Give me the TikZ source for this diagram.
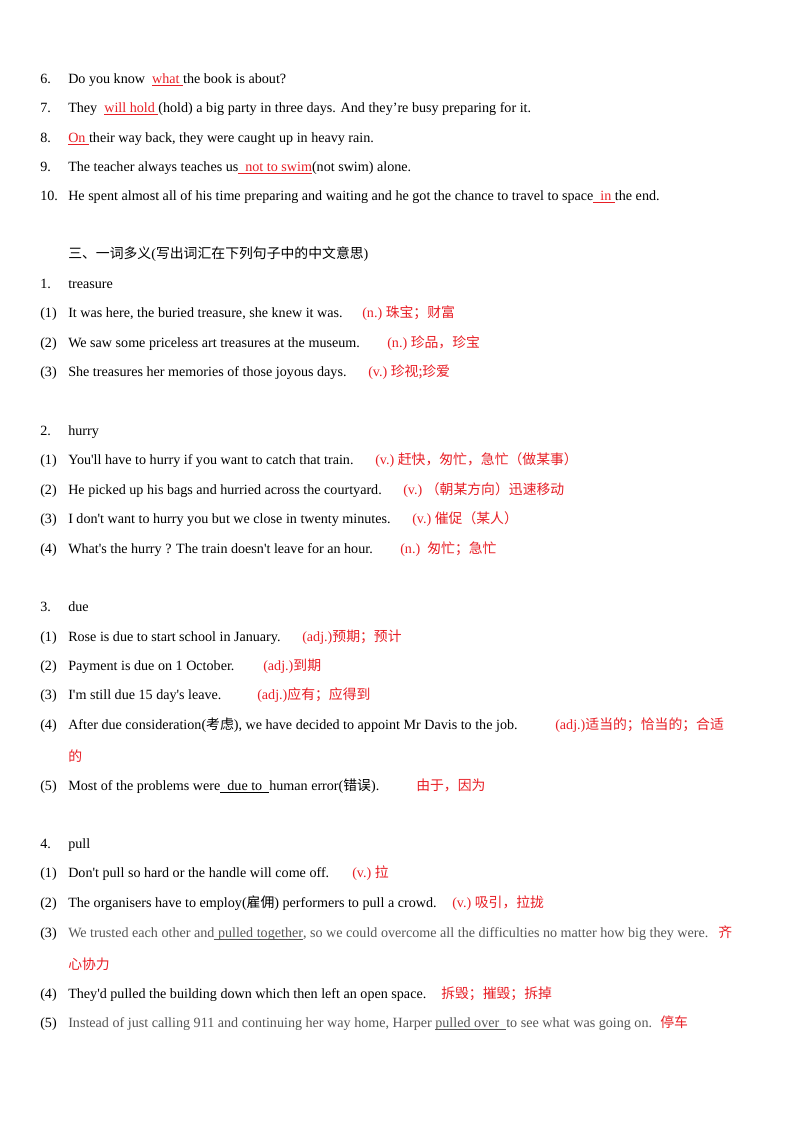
\documentclass[tikz,border=0pt]{standalone}
\usepackage{fontspec}
\setmainfont{Liberation Serif}[Ligatures=TeXOff]
\newfontfamily\cjk{Noto Sans CJK SC}
\definecolor{ans}{RGB}{232,30,37}
\definecolor{gr}{RGB}{85,85,85}
\newcommand{\zh}[1]{{\cjk\fontsize{10.3pt}{12pt}\selectfont #1}}
\newcommand{\red}[1]{{\color{ans}#1}}
\newcommand{\ul}[1]{\underline{\smash{\strut #1}}}
\tikzset{ln/.style={anchor=base west,inner sep=0pt,font=\fontsize{10.5pt}{12pt}\selectfont},
  rd/.style={ln,text=ans}}
\begin{document}
\begin{tikzpicture}[x=0.744pt,y=-0.744pt]
\useasboundingbox (0,0) rectangle (800,1132);
\fill[white] (0,0) rectangle (800,1132);
% numbers
\foreach \n/\y in {6./79,7./108,8./138,9./167,10./196,1./284,2./431,3./607,4./844}
  \node[ln] at (40,\y+4) {\n};
\foreach \n/\y/\k in {(1)/313/a,(2)/343/b,(3)/372/c,(1)/460/d,(2)/490/e,(3)/519/f,(4)/549/g,(1)/637/h,(2)/666/i,(3)/695/j,(4)/725/k,(5)/786/l,(1)/873/m,(2)/903/n,(3)/933/o,(4)/994/p,(5)/1023/q}
  \node[ln] (num\k) at (40,\y+4) {\n};
\node[ln] (s6) at (68,83) {Do you know\ \ \red{\ul{what\ }}the book is about?};
\node[ln] (s7) at (68,112) {They\ \ \red{\ul{will hold\ }}(hold) a big party in three days. And they’re busy preparing for it.};
\node[ln] (s8) at (68,142) {\red{\ul{On\ }}their way back, they were caught up in heavy rain.};
\node[ln] (s9) at (68,171) {The teacher always teaches us\red{\ul{\ \ not to swim}}(not swim) alone.};
\node[ln] (s10) at (68,200) {He spent almost all of his time preparing and waiting and he got the chance to travel to space\red{\ul{\ \ in\ }}the end.};
\node[ln] (h3) at (68,258) {\zh{三、一词多义}(\zh{写出词汇在下列句子中的中文意思})};
\node[ln] (w1) at (68,288) {treasure};
\node[ln] (ta) at (68,317) {It was here, the buried treasure, she knew it was.};
\node[rd] (ra) at (362,317) {(n.)\ \zh{珠宝；财富}};
\node[ln] (tb) at (68,347) {We saw some priceless art treasures at the museum.};
\node[rd] (rb) at (387,347) {(n.)\ \zh{珍品，珍宝}};
\node[ln] (tc) at (68,376) {She treasures her memories of those joyous days.};
\node[rd] (rc) at (368,376) {(v.)\ \zh{珍视;珍爱}};
\node[ln] (w2) at (68,435) {hurry};
\node[ln] (td) at (68,464) {You'll have to hurry if you want to catch that train.};
\node[rd] (rd1) at (375,464) {(v.)\ \zh{赶快，匆忙，急忙（做某事）}};
\node[ln] (te) at (68,494) {He picked up his bags and hurried across the courtyard.};
\node[rd] (re) at (403,494) {(v.)\ \zh{（朝某方向）迅速移动}};
\node[ln] (tf) at (68,523) {I don't want to hurry you but we close in twenty minutes.};
\node[rd] (rf) at (412,523) {(v.)\ \zh{催促（某人）}};
\node[ln] (tg) at (68,553) {What's the hurry ? The train doesn't leave for an hour.};
\node[rd] (rg) at (400,553) {(n.)\ \ \zh{匆忙；急忙}};
\node[ln] (w3) at (68,611) {due};
\node[ln] (th) at (68,641) {Rose is due to start school in January.};
\node[rd] (rh) at (302,641) {(adj.)\zh{预期；预计}};
\node[ln] (ti) at (68,670) {Payment is due on 1 October.};
\node[rd] (ri) at (263,670) {(adj.)\zh{到期}};
\node[ln] (tj) at (68,699) {I'm still due 15 day's leave.};
\node[rd] (rj) at (257,699) {(adj.)\zh{应有；应得到}};
\node[ln] (tk) at (68,729) {After due consideration(\zh{考虑}), we have decided to appoint Mr Davis to the job.};
\node[rd] (rk) at (555,729) {(adj.)\zh{适当的；恰当的；合适}};
\node[rd] (rk2) at (68,761) {\zh{的}};
\node[ln] (tl) at (68,790) {Most of the problems were\ul{\ \ due to\ \ }human error(\zh{错误}).};
\node[rd] (rl) at (416,790) {\zh{由于，因为}};
\node[ln] (w4) at (68,848) {pull};
\node[ln] (tm) at (68,877) {Don't pull so hard or the handle will come off.};
\node[rd] (rm) at (352,877) {(v.)\ \zh{拉}};
\node[ln] (tn) at (68,907) {The organisers have to employ(\zh{雇佣}) performers to pull a crowd.};
\node[rd] (rn) at (452,907) {(v.)\ \zh{吸引，拉拢}};
\node[ln,text=gr] (to) at (68,937) {We trusted each other and\ul{\ pulled together}, so we could overcome all the difficulties no matter how big they were.};
\node[rd] (ro) at (718,937) {\zh{齐}};
\node[rd] (ro2) at (68,969) {\zh{心协力}};
\node[ln] (tp) at (68,998) {They'd pulled the building down which then left an open space.};
\node[rd] (rp) at (441,998) {\zh{拆毁；摧毁；拆掉}};
\node[ln,text=gr] (tq) at (68,1027) {Instead of just calling 911 and continuing her way home, Harper \ul{pulled over\ \ }to see what was going on.};
\node[rd] (rq) at (660,1027) {\zh{停车}};
\end{tikzpicture}
\end{document}
